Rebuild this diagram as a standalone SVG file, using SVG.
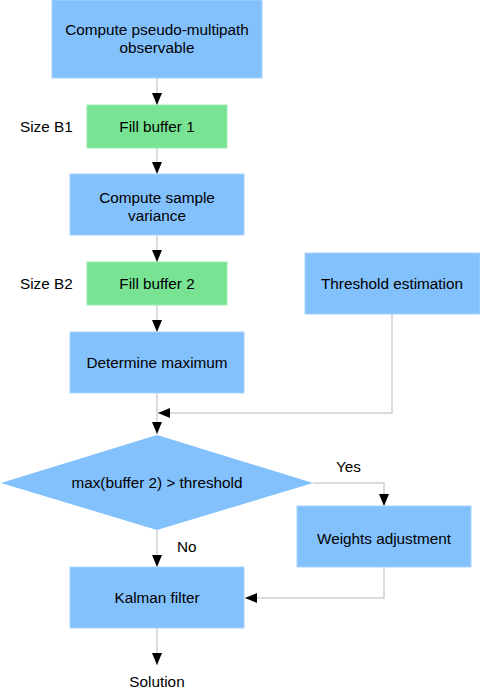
<svg xmlns="http://www.w3.org/2000/svg" width="480" height="692" viewBox="0 0 480 692">
<style>
.b{fill:#83c1fd;stroke:#a9d3fd;stroke-width:1}
.g{fill:#77e393;stroke:#9aeab0;stroke-width:1}
text{font-family:"Liberation Sans",Arial,sans-serif;font-size:15.3px;fill:#000}
.c{text-anchor:middle}
.ln{fill:none;stroke:#d0d0d0;stroke-width:1.5}
</style>
<defs>
<marker id="ah" viewBox="0 0 12 10" refX="12" refY="5" markerWidth="12" markerHeight="10" markerUnits="userSpaceOnUse" orient="auto">
<path d="M0,0 L12,5 L0,10 Z" fill="#000"/>
</marker>
</defs>
<g id="connectors">
<path class="ln" d="M157,78 V105" marker-end="url(#ah)"/>
<path class="ln" d="M157,148 V174" marker-end="url(#ah)"/>
<path class="ln" d="M157,235 V262" marker-end="url(#ah)"/>
<path class="ln" d="M157,305 V332" marker-end="url(#ah)"/>
<path class="ln" d="M157,393 V434" marker-end="url(#ah)"/>
<path class="ln" d="M392,314 V413 H158" marker-end="url(#ah)"/>
<path class="ln" d="M313,483 H384 V506" marker-end="url(#ah)"/>
<path class="ln" d="M157,530 V567" marker-end="url(#ah)"/>
<path class="ln" d="M384,567 V598 H245" marker-end="url(#ah)"/>
<path class="ln" d="M157,628 V665" marker-end="url(#ah)"/>
</g>
<g id="n1"><rect class="b" x="52" y="0" width="210" height="78"/><text class="c" x="157" y="35">Compute pseudo-multipath</text><text class="c" x="157" y="53">observable</text></g>
<g id="lb1"><text x="20" y="132">Size B1</text></g>
<g id="n2"><rect class="g" x="87" y="105" width="140" height="43"/><text class="c" x="157" y="132">Fill buffer 1</text></g>
<g id="n3"><rect class="b" x="70" y="174" width="174" height="61"/><text class="c" x="157" y="203">Compute sample</text><text class="c" x="157" y="221">variance</text></g>
<g id="lb2"><text x="20" y="289">Size B2</text></g>
<g id="n4"><rect class="g" x="87" y="262" width="140" height="43"/><text class="c" x="157" y="289">Fill buffer 2</text></g>
<g id="n5"><rect class="b" x="305" y="253" width="175" height="61"/><text class="c" x="392" y="289">Threshold estimation</text></g>
<g id="n6"><rect class="b" x="70" y="332" width="174" height="61"/><text class="c" x="157" y="368">Determine maximum</text></g>
<g id="n7"><polygon fill="#83c1fd" points="157,435 313,483 157,530 1,483"/><text class="c" x="157" y="488">max(buffer 2) &gt; threshold</text></g>
<g id="lyes"><text x="336" y="472">Yes</text></g>
<g id="n8"><rect class="b" x="297" y="506" width="174" height="61"/><text class="c" x="384" y="544">Weights adjustment</text></g>
<g id="lno"><text x="177" y="552">No</text></g>
<g id="n9"><rect class="b" x="70" y="567" width="174" height="61"/><text class="c" x="157" y="603">Kalman filter</text></g>
<g id="n10"><text class="c" x="157" y="687">Solution</text></g>
</svg>
